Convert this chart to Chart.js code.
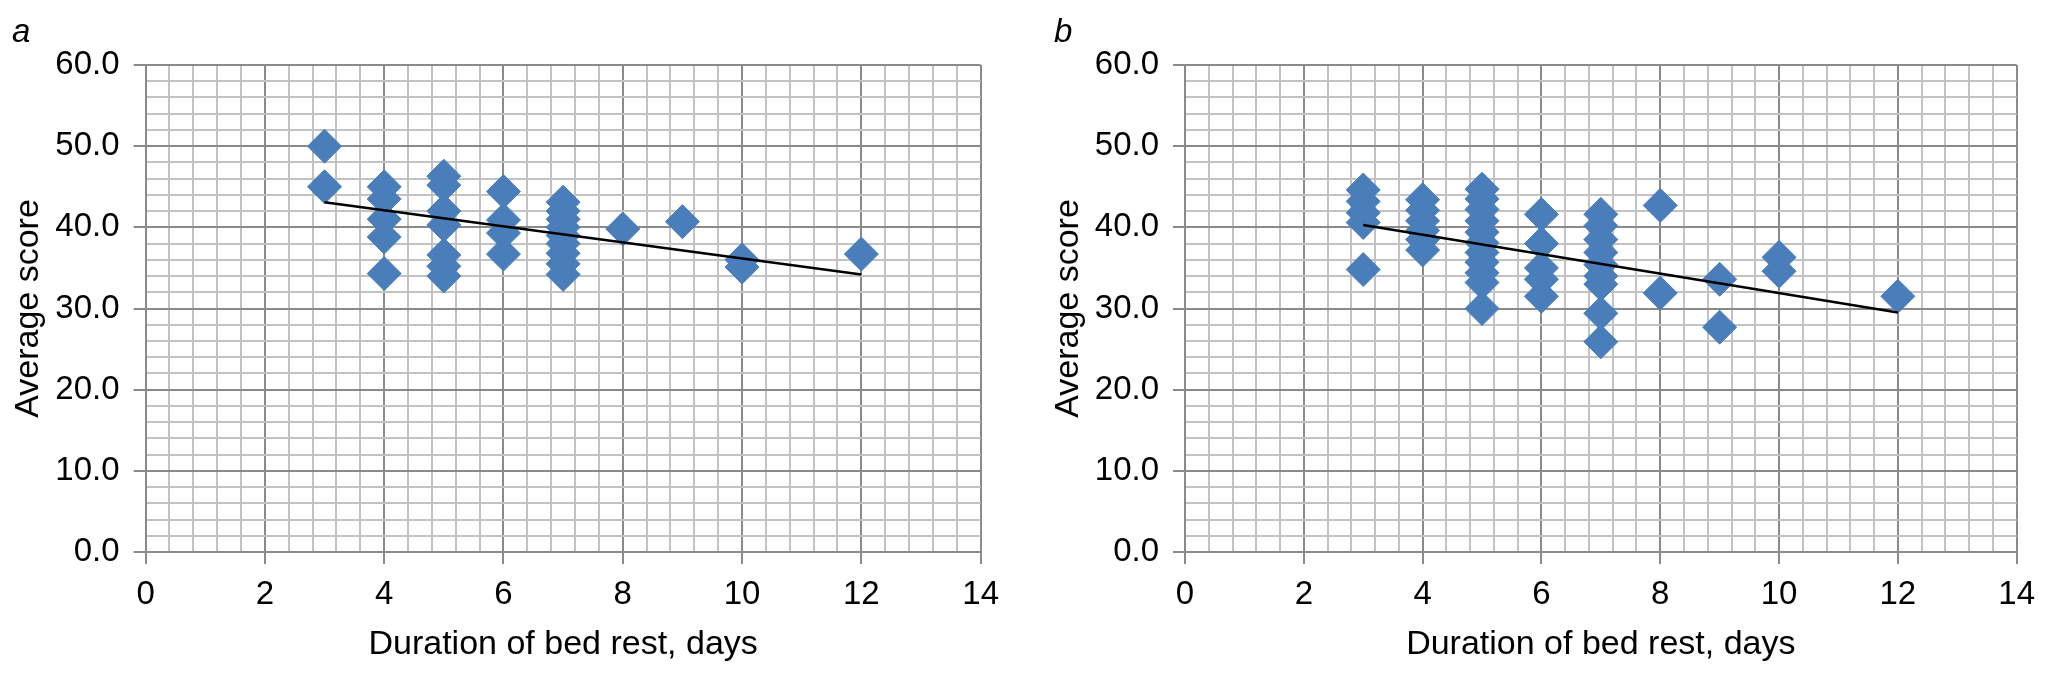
<!DOCTYPE html>
<html>
<head>
<meta charset="utf-8">
<script src="https://cdn.jsdelivr.net/npm/chart.js@4.4.0/dist/chart.umd.min.js"></script>
<style>
    body { margin: 0; background: #fff; width: 2046px; height: 674px; position: relative; overflow: hidden; }
    .panel { position: absolute; top: 0; height: 674px; }
    #wrapA { left: 0; width: 1010px; }
    #wrapB { left: 1040px; width: 1006px; }
    .tag { position: absolute; font: italic 33px 'Liberation Sans', sans-serif; line-height: 33px; color: #000; }
</style>
</head>
<body>
<div class="panel" id="wrapA"><canvas id="chartA"></canvas></div>
<div class="panel" id="wrapB"><canvas id="chartB"></canvas></div>
<span class="tag" style="left:12px;top:14px">a</span>
<span class="tag" style="left:1054px;top:14px">b</span>
<script>
// Panel a — days of bed rest vs average score
const daysA  = [3, 3, 4, 4, 4, 4, 4, 5, 5, 5, 5, 5, 5, 5, 6, 6, 6, 6, 7, 7, 7, 7, 7, 7, 7, 7, 7, 8, 9, 10, 10, 12];
const scoreA = [50.0, 45.0, 45.0, 43.5, 41.0, 38.8, 34.3, 46.3, 45.2, 42.0, 40.3, 36.6, 35.2, 34.0,
                44.4, 40.9, 39.3, 36.7, 43.1, 42.0, 41.0, 40.0, 39.0, 38.0, 36.8, 35.5, 34.2, 39.8, 40.7, 36.0, 35.1, 36.7];
const trendDaysA  = [3, 12];
const trendScoreA = [43.1, 34.2];

// Panel b
const daysB  = [3, 3, 3, 3, 3, 4, 4, 4, 4, 4, 4, 5, 5, 5, 5, 5, 5, 5, 5, 5, 5, 5,
                6, 6, 6, 6, 6, 7, 7, 7, 7, 7, 7, 7, 7, 7, 8, 8, 9, 9, 10, 10, 12];
const scoreB = [44.6, 43.2, 41.8, 40.6, 34.8, 43.4, 42.1, 40.8, 39.6, 38.5, 37.2,
                44.7, 43.5, 42.2, 40.8, 39.4, 38.1, 36.9, 35.7, 34.4, 33.2, 30.0,
                41.6, 38.0, 35.0, 33.6, 31.5, 41.6, 40.2, 38.5, 36.9, 35.4, 34.0, 33.0, 29.4, 25.9,
                42.7, 31.9, 33.6, 27.7, 36.3, 34.6, 31.5];
const trendDaysB  = [3, 12];
const trendScoreB = [40.3, 29.5];

// axes
const xRange = [0, 14];
const yRange = [0, 60];
const xMajor = 2,  xMinor = 0.4;
const yMajor = 10, yMinor = 2;

const MARKER = '#4a7ebb';
const MAJOR = '#8a8a8a';
const MINOR = '#c2c2c2';
const TICK_FONT = { family: "'Liberation Sans', sans-serif", size: 33 };
const TITLE_FONT = { family: "'Liberation Sans', sans-serif", size: 34 };

const onStep = (v, step) => Math.abs(v / step - Math.round(v / step)) < 1e-6;

function buildChart(id, days, scores, tDays, tScores, axisWidth) {
    const points = days.map((d, i) => ({ x: d, y: scores[i] }));
    const trend = tDays.map((d, i) => ({ x: d, y: tScores[i] }));
    return new Chart(document.getElementById(id), {
        type: 'scatter',
        data: {
            datasets: [
                { data: trend, showLine: true, borderColor: '#000', borderWidth: 2.5, pointRadius: 0, order: 0 },
                { data: points, pointStyle: 'rectRot', pointRadius: 17, pointHoverRadius: 17, backgroundColor: MARKER, borderColor: MARKER, borderWidth: 1, order: 1 }
            ]
        },
        options: {
            responsive: true, maintainAspectRatio: false, animation: false,
            layout: { padding: { left: 0, top: 65, right: 20, bottom: 0 } },
            plugins: { legend: { display: false }, tooltip: { enabled: false } },
            scales: {
                x: {
                    type: 'linear', min: xRange[0], max: xRange[1],
                    afterFit: s => { s.height = 122; },
                    ticks: { stepSize: xMinor, autoSkip: false, maxRotation: 0, padding: 11, color: '#000', font: TICK_FONT,
                             callback: v => onStep(v, xMajor) ? String(Math.round(v)) : '' },
                    grid: { color: c => onStep(c.tick.value, xMajor) ? MAJOR : MINOR, lineWidth: 2, tickLength: 12,
                            tickColor: c => onStep(c.tick.value, xMajor) ? MAJOR : 'rgba(0,0,0,0)' },
                    border: { color: MAJOR, width: 2 },
                    title: { display: true, text: 'Duration of bed rest, days', color: '#000', font: TITLE_FONT, padding: { top: 0, bottom: 9 } }
                },
                y: {
                    min: yRange[0], max: yRange[1],
                    afterFit: s => { s.width = axisWidth; },
                    ticks: { stepSize: yMinor, autoSkip: false, padding: 14, color: '#000', font: TICK_FONT,
                             callback: v => onStep(v, yMajor) ? v.toFixed(1) : '' },
                    grid: { color: c => onStep(c.tick.value, yMajor) ? MAJOR : MINOR, lineWidth: 2, tickLength: 12,
                            tickColor: c => onStep(c.tick.value, yMajor) ? MAJOR : 'rgba(0,0,0,0)' },
                    border: { color: MAJOR, width: 2 },
                    title: { display: true, text: 'Average score', color: '#000', font: TITLE_FONT, padding: { top: 8, bottom: 0 } }
                }
            }
        }
    });
}

buildChart('chartA', daysA, scoreA, trendDaysA, trendScoreA, 145.6);
buildChart('chartB', daysB, scoreB, trendDaysB, trendScoreB, 145);
</script>
</body>
</html>
